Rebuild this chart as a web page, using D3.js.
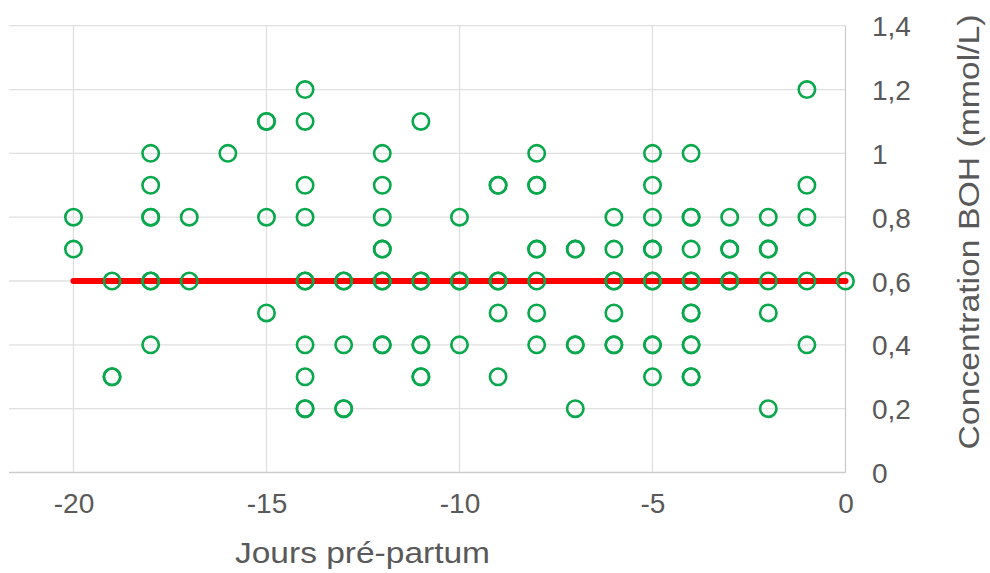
<!DOCTYPE html>
<html>
<head>
<meta charset="utf-8">
<script src="https://cdn.jsdelivr.net/npm/d3@7"></script>
<style>
  body { margin: 0; background: #fff; }
  text { font-family: "Liberation Sans", Arial, sans-serif; fill: #595959; }
</style>
</head>
<body>
<svg id="chart"></svg>
<script>
// jours pré-partum et concentrations BOH relevées (doublons = points superposés)
const jours = [-20, -19, -18, -17, -16, -15, -14, -13, -12, -11, -10, -9, -8, -7, -6, -5, -4, -3, -2, -1, 0];
const bohParJour = [
  [0.8, 0.7],
  [0.6, 0.3, 0.3],
  [1.0, 0.9, 0.8, 0.8, 0.6, 0.6, 0.4],
  [0.8, 0.6],
  [1.0],
  [1.1, 1.1, 0.8, 0.5],
  [1.2, 1.1, 0.9, 0.8, 0.6, 0.6, 0.4, 0.3, 0.2, 0.2],
  [0.6, 0.6, 0.4, 0.2, 0.2],
  [1.0, 0.9, 0.8, 0.7, 0.7, 0.6, 0.6, 0.4, 0.4],
  [1.1, 0.6, 0.6, 0.4, 0.4, 0.3, 0.3],
  [0.8, 0.6, 0.6, 0.4],
  [0.9, 0.9, 0.6, 0.6, 0.5, 0.3],
  [1.0, 0.9, 0.9, 0.7, 0.7, 0.6, 0.5, 0.4],
  [0.7, 0.7, 0.4, 0.4, 0.2],
  [0.8, 0.7, 0.6, 0.6, 0.5, 0.4, 0.4],
  [1.0, 0.9, 0.8, 0.7, 0.7, 0.6, 0.6, 0.4, 0.4, 0.3],
  [1.0, 0.8, 0.8, 0.7, 0.6, 0.6, 0.5, 0.5, 0.4, 0.4, 0.3, 0.3],
  [0.8, 0.7, 0.7, 0.6, 0.6],
  [0.8, 0.7, 0.7, 0.6, 0.5, 0.2],
  [1.2, 0.9, 0.8, 0.6, 0.4],
  [0.6]
];
const moyenneX = [-20, 0];
const moyenneY = [0.6, 0.6];
const xTicks = [-20, -15, -10, -5, 0];
const yTicks = [0, 0.2, 0.4, 0.6, 0.8, 1, 1.2, 1.4];

const width = 990, height = 573;
const svg = d3.select('#chart').attr('width', width).attr('height', height);

const x = d3.scaleLinear().domain([-21.67, 0]).range([9, 845.5]);
const y = d3.scaleLinear().domain([0, 1.4]).range([472.5, 25.7]);

const fmt = d => String(d).replace('.', ',');

// grille horizontale
svg.append('g')
  .selectAll('line')
  .data(yTicks.filter(d => d > 0))
  .join('line')
  .attr('x1', x.range()[0]).attr('x2', x.range()[1])
  .attr('y1', d => y(d)).attr('y2', d => y(d))
  .attr('stroke', '#e0e0e0').attr('stroke-width', 1.3);

// grille verticale
svg.append('g')
  .selectAll('line')
  .data(xTicks.filter(d => d < 0))
  .join('line')
  .attr('x1', d => x(d)).attr('x2', d => x(d))
  .attr('y1', y(1.4)).attr('y2', y(0))
  .attr('stroke', '#e0e0e0').attr('stroke-width', 1.3);

// axes (lignes)
svg.append('line')
  .attr('x1', x.range()[0]).attr('x2', x.range()[1])
  .attr('y1', y(0)).attr('y2', y(0))
  .attr('stroke', '#cccccc').attr('stroke-width', 1.3);
svg.append('line')
  .attr('x1', x(0)).attr('x2', x(0))
  .attr('y1', y(1.4)).attr('y2', y(0))
  .attr('stroke', '#cccccc').attr('stroke-width', 1.3);

// libellés des graduations
const xAxis = d3.axisBottom(x).tickValues(xTicks).tickSize(0).tickPadding(0).tickFormat(fmt);
const gx = svg.append('g').attr('transform', `translate(0, ${y(0)})`).call(xAxis);
gx.select('.domain').remove();
gx.selectAll('text')
  .attr('y', 40).attr('dy', 0)
  .style('font-size', '28px').style('fill', '#595959').style('font-family', '"Liberation Sans", Arial, sans-serif');

const yAxis = d3.axisRight(y).tickValues(yTicks).tickSize(0).tickPadding(0).tickFormat(fmt);
const gy = svg.append('g').attr('transform', `translate(872, 0)`).call(yAxis);
gy.select('.domain').remove();
gy.selectAll('text')
  .attr('x', 0).attr('dy', '0.36em')
  .style('font-size', '28px').style('fill', '#595959').style('font-family', '"Liberation Sans", Arial, sans-serif');

// titres
svg.append('text')
  .attr('x', 362.5).attr('y', 563)
  .attr('text-anchor', 'middle')
  .attr('textLength', 255)
  .attr('lengthAdjust', 'spacingAndGlyphs')
  .style('font-size', '29px')
  .text('Jours pré-partum');

svg.append('text')
  .attr('transform', 'translate(979, 232) rotate(-90)')
  .attr('text-anchor', 'middle')
  .attr('textLength', 435)
  .attr('lengthAdjust', 'spacingAndGlyphs')
  .style('font-size', '30px')
  .text('Concentration BOH (mmol/L)');

// moyenne
svg.append('path')
  .datum(moyenneX.map((d, i) => [d, moyenneY[i]]))
  .attr('d', d3.line().x(d => x(d[0])).y(d => y(d[1])))
  .attr('fill', 'none')
  .attr('stroke', '#ff0000')
  .attr('stroke-width', 6)
  .attr('stroke-linecap', 'round');

// points
const points = jours.flatMap((j, i) => bohParJour[i].map(v => ({ j, v })));
svg.append('g')
  .selectAll('circle')
  .data(points)
  .join('circle')
  .attr('cx', d => x(d.j))
  .attr('cy', d => y(d.v))
  .attr('r', 8.2)
  .attr('fill', 'none')
  .attr('stroke', '#0aa84c')
  .attr('stroke-width', 2.6);
</script>
</body>
</html>
